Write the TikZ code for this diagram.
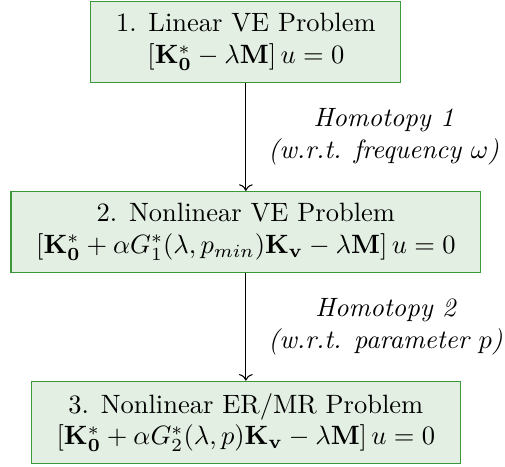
\documentclass[tikz,border=0pt]{standalone}
\usepackage{amsmath,amssymb}
\usepackage{xcolor}
\usepackage{tikz}
\usetikzlibrary{positioning,arrows.meta}
\definecolor{cFill}{RGB}{227,239,226}
\definecolor{cEdge}{RGB}{60,150,60}

\begin{document}
\begin{tikzpicture}[
    stage/.style={draw=cEdge,fill=cFill,align=center,inner xsep=9.5pt,inner ysep=4.5pt},
    hlabel/.style={font=\itshape,align=center},
    node distance=40.8pt]
  % problem stages
  \node[stage] (lin) at (0,0)
     {1. Linear VE Problem\\ $[\mathbf{K}_\mathbf{0}^*-\lambda\mathbf{M}]\,u=0$};
  \node[stage,below=of lin] (nlve)
     {2. Nonlinear VE Problem\\ $[\mathbf{K}_\mathbf{0}^*+\alpha G_1^*(\lambda,p_{min})\mathbf{K}_\mathbf{v}-\lambda\mathbf{M}]\,u=0$};
  \node[stage,below=of nlve] (nler)
     {3. Nonlinear ER/MR Problem\\ $[\mathbf{K}_\mathbf{0}^*+\alpha G_2^*(\lambda,p)\mathbf{K}_\mathbf{v}-\lambda\mathbf{M}]\,u=0$};
  % homotopy steps
  \draw[->] (lin) -- node[hlabel,right=5pt] {Homotopy 1\\(w.r.t. frequency $\omega$)} (nlve);
  \draw[->] (nlve) -- node[hlabel,right=5pt] {Homotopy 2\\(w.r.t. parameter $p$)} (nler);
  % margins
  \pgfresetboundingbox
  \useasboundingbox ([xshift=-92.8pt,yshift=0.4pt]lin.north) rectangle ([xshift=97.8pt,yshift=-1.1pt]nler.south);
\end{tikzpicture}
\end{document}
